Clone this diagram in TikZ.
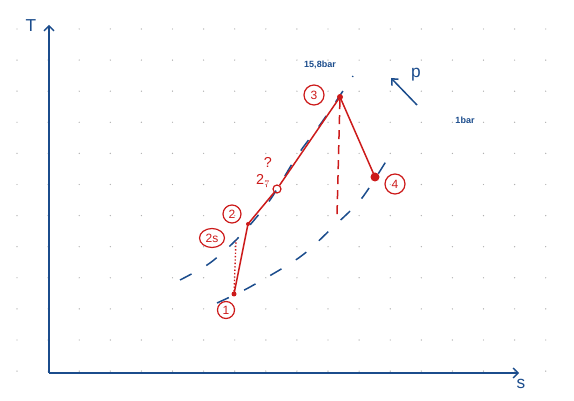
\documentclass[tikz,border=0pt]{standalone}
\usepackage{fontspec}
\setmainfont{Liberation Sans}
\usetikzlibrary{arrows.meta,shapes.geometric}
\definecolor{pblue}{HTML}{1B4C8C}
\definecolor{pred}{HTML}{CC1A1A}
\definecolor{dotgray}{HTML}{B0B0B0}
\tikzset{
  axis/.style={pblue, line width=1.4pt, -{Straight Barb[length=5pt,width=10pt]}},
  isobar/.style={pblue, line width=1.5pt, dash pattern=on 13pt off 17pt},
  proc/.style={pred, line width=1.5pt},
  statelbl/.style={circle, draw=pred, line width=1.2pt, text=pred, inner sep=0pt, minimum size=18pt, font=\large},
  bluelbl/.style={text=pblue, font=\small\bfseries, inner sep=1pt},
  dotpt/.style={circle, fill=pred, inner sep=0pt, minimum size=5pt},
}
\begin{document}
\begin{tikzpicture}[x=1pt,y=-1pt]
\useasboundingbox (0,0) rectangle (574,401);
% grid dots
\foreach \i in {0,...,17}{
  \foreach \j in {0,...,11}{
    \fill[dotgray] (17+\i*31.1, 29+\j*31.1) circle (0.7pt);
  }
}
% axes
\coordinate (O) at (49,373);
\coordinate (Ttip) at (49,25);
\coordinate (Stip) at (519,373);
\draw[axis] (O) -- (Ttip);
\draw[axis] (O) -- (Stip);
\node[text=pblue, font=\LARGE] (Tl) at (31,26) {T};
\node[text=pblue, font=\LARGE] (Sl) at (521,384) {s};
% isobars
\draw[isobar] plot[smooth] coordinates {(180,280) (210,263) (240,236) (270,200) (297,156) (322,122) (353,76)};
\draw[isobar] plot[smooth] coordinates {(217,303) (250,287) (300,257) (332,228) (362,198) (393,150)};
\node[bluelbl] (hp) at (320,65) {15,8bar};
\node[bluelbl] (lp) at (465,120) {1bar};
\coordinate (pa) at (417,105);
\coordinate (pb) at (391,78);
\draw[pblue, line width=1.5pt, -{Straight Barb[length=5pt,width=9pt]}] (pa) -- (pb);
\node[text=pblue, font=\LARGE] (pl) at (416,75) {p};
% state points
\node[dotpt] (p1) at (234,294) {};
\node[dotpt, minimum size=4pt] (p2) at (248,224) {};
\node[circle, draw=pred, line width=1.2pt, inner sep=0pt, minimum size=8pt] (p2i) at (277,189) {};
\node[dotpt, minimum size=6pt] (p3) at (340,97) {};
\node[dotpt, minimum size=9pt] (p4) at (375,177) {};
\coordinate (p2s) at (236,240);
\coordinate (p3s) at (337,216);
% processes
\draw[proc] (p1.center) -- (p2.center) -- (p2i) ;
\draw[proc] (p2i) -- (p3.center) -- (p4.center);
\draw[pred, line width=1.4pt, dotted] (p1) -- (p2s);
\draw[pred, line width=1.5pt, dash pattern=on 9pt off 6pt] (p3) -- (p3s);
% labels
\node[statelbl, minimum size=17pt] (l1) at (226,310) {1};
\node[statelbl, ellipse, minimum width=25pt, minimum height=19pt] (l2s) at (212,238) {2s};
\node[statelbl] (l2) at (232,214) {2};
\node[statelbl, minimum size=20pt] (l3) at (314,95) {3};
\node[statelbl, minimum size=20pt] (l4) at (395,184) {4};
\node[text=pred, font=\Large, inner sep=0pt] (l2i) at (263,181) {2$_7$};
\node[text=pred, font=\Large, inner sep=0pt] (lq) at (268,162) {?};
\end{tikzpicture}
\end{document}
